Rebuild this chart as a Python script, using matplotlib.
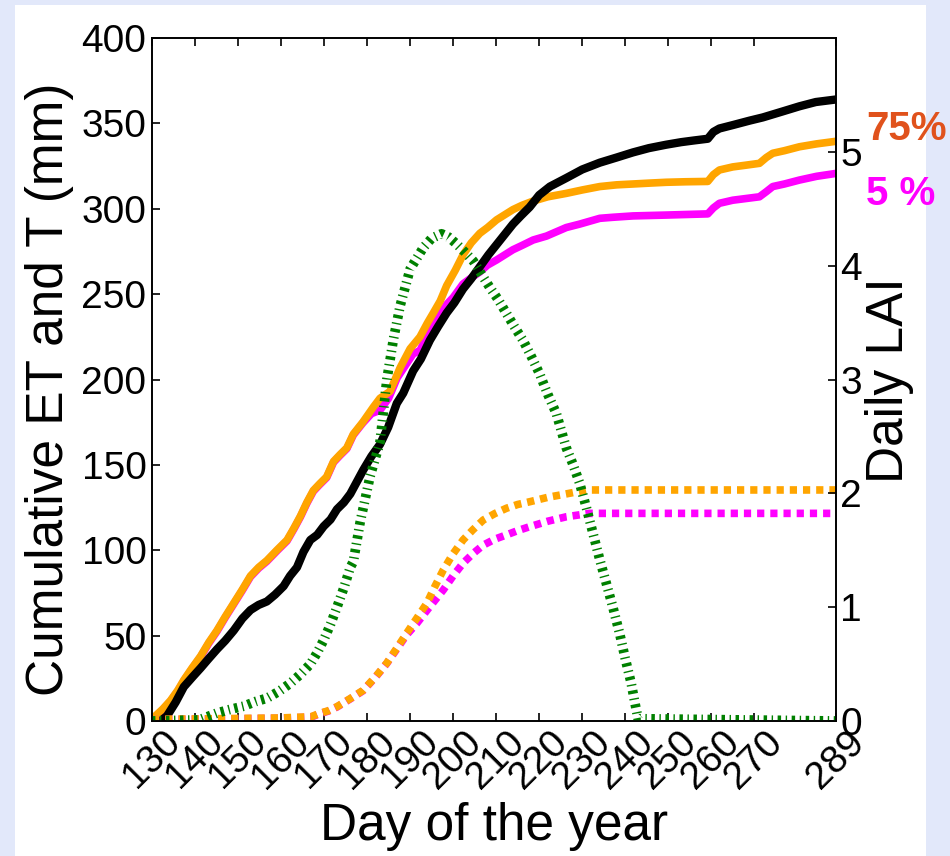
import matplotlib
matplotlib.use("Agg")
import matplotlib.pyplot as plt
from matplotlib.patches import Rectangle

plt.rcParams['font.family'] = ['Liberation Sans', 'DejaVu Sans']
plt.rcParams['lines.scale_dashes'] = False

# ---- cumulative evapotranspiration (mm), reference crop ----
et_ref_day = [130, 132, 133.5, 135.5, 137.4, 139.5, 141.3, 143, 145.1, 147, 149, 151, 152.9,
              154.8, 156.7, 158.6, 160.6, 162.1, 163.7, 165.2, 166.8, 168.4, 169.9, 171.5, 173,
              174.6, 176.1, 177.6, 179.1, 181, 183, 184.9, 186.9, 188.4, 190.7, 192.5, 194.6,
              196.5, 198.5, 200.3, 202.3, 204.2, 206.2, 208.2, 210.1, 212, 213.9, 215.8, 217.8,
              220, 222.5, 226.3, 230, 234.1, 238, 241.8, 245.5, 249.5, 253, 256, 259.2, 260.5,
              261.9, 265, 268.9, 272, 276.6, 280.5, 284.3, 289]
et_ref = [0, 0, 3, 11, 20, 26, 31, 36, 42, 47, 53, 60, 65,
          68, 70, 74, 79, 85, 90, 99, 106, 109, 114, 118, 124,
          128, 133, 140, 147, 155, 162, 172, 186, 192, 205, 212, 223,
          231, 239, 245, 253, 259, 266, 273, 279, 285, 291, 296, 301,
          308, 313, 318, 323, 327, 330, 333, 335.5, 337.5, 339, 340, 341, 345,
          347, 349, 351.6, 353.5, 357, 360, 362.5, 364]

# ---- cumulative ET, 75% treatment ----
et75_day = [130, 130.8, 132.5, 134.3, 136, 137.4, 139.3, 141.3, 143.2, 145.1, 147, 149, 151,
            152.9, 154.8, 156.7, 159, 161.4, 163, 164.5, 166, 167.5, 169, 170.6, 172.2, 173.7,
            175.3, 176.8, 179, 181.5, 183, 185.3, 187.7, 190, 192.3, 194, 195.4, 197, 198.5,
            200.5, 202.3, 204.2, 206.2, 208, 210.1, 212, 213.9, 216, 218.6, 222, 226.3, 230,
            234.1, 238, 241.8, 245.5, 249.5, 254, 259.2, 260.5, 261.9, 265, 268, 271.2, 272.8,
            274.3, 277, 280.5, 284.5, 289]
et75 = [1.5, 3, 7, 12, 18, 24, 31, 38, 46, 53, 61, 69, 77,
        85, 90, 94, 100, 106, 113, 120, 128, 135, 139, 143, 152, 156,
        160, 168, 175, 184, 189, 193, 207, 218, 225, 233, 239, 246, 255,
        264, 273, 280, 285.6, 289, 293.5, 296.5, 299.5, 302, 304.5, 307, 309, 311,
        313, 314, 314.5, 315, 315.5, 315.8, 316, 320, 322.7, 324.5, 325.5, 326.6, 330,
        332.5, 334, 336.3, 338, 339.5]

# ---- cumulative ET, 5% treatment ----
et5_day = [130, 130.8, 132.5, 134.3, 136, 137.4, 139.3, 141.3, 143.2, 145.1, 147, 149, 151,
           152.9, 154.8, 156.7, 159, 161.4, 163, 164.5, 166, 167.5, 169, 170.6, 172.2, 173.7,
           175.3, 176.8, 179, 181, 183, 185, 187, 190.7, 192.3, 194.6, 196.5, 198.5, 200,
           202.3, 204.2, 206.2, 208, 210.1, 212, 213.9, 216, 218.6, 221.7, 226.3, 229.4,
           234.1, 237.1, 241.8, 249.5, 259.2, 260.5, 261.9, 265, 271.2, 272.8, 274.3, 277,
           280.5, 284.5, 289]
et5 = [1, 2.5, 6.5, 11.5, 17.5, 23.5, 30.5, 37.5, 45.5, 52.5, 60.5, 68.5, 76.5,
       84.5, 89.5, 93.5, 99.5, 105.5, 112.5, 119.5, 127.5, 134.5, 138.5, 142.5, 151.5, 155.5,
       159.5, 167.5, 174.5, 180, 182, 189, 201, 215, 217, 229, 236, 244, 248,
       256, 259.5, 263, 267, 270, 273, 276, 278.5, 281.7, 284, 289, 291,
       294.4, 295, 295.8, 296.3, 297, 300.5, 303.2, 305, 307, 310, 313, 314.5,
       316.8, 319, 320.7]

# ---- cumulative transpiration (mm) ----
t75_day = [130, 140, 150, 160, 167, 169, 171, 173, 176, 179.1, 182, 184.6, 187, 189.2, 191.5,
           193.9, 195.8, 197.7, 200, 202.3, 204.6, 207, 209.7, 212.4, 215, 217.8, 222, 226.3,
           231, 289]
t75 = [1, 1.2, 1.5, 1.8, 2.5, 4.5, 6, 8.4, 13, 18, 26, 34, 43, 51.4, 60,
       69, 79, 88.4, 98, 106, 112, 117.7, 121.5, 124.6, 126.8, 128.4, 131, 133,
       135.3, 135.3]

t5_day = [130, 140, 150, 160, 167, 169, 171, 173, 176, 179.1, 182, 184.6, 187, 189.2, 191.5,
          194.6, 197.7, 200, 202.3, 204.6, 207, 209.7, 212.4, 215, 217.8, 222, 226.3,
          231.7, 289]
t5 = [0.8, 1, 1.3, 1.6, 2.3, 4.3, 5.8, 8.2, 12.8, 17.8, 25.8, 33.8, 42.5, 50.5, 57,
      67, 76.7, 85, 92.4, 98, 103, 106.5, 109, 111.5, 113.8, 117, 119.6,
      121.6, 121.6]

# ---- daily leaf area index ----
lai_day = [130, 141, 145.1, 148, 151.3, 154, 156.7, 159.5, 162.1, 164.5, 166.8, 168.4, 169.9,
           171.5, 173, 174.6, 176.1, 176.8, 178.4, 180.7, 183, 184.6, 186.1, 187.7, 190,
           193.1, 195, 197.3, 199, 200.8, 202.7, 204.7, 206.5, 208.5, 210.5, 212.4, 214.3,
           216.3, 218.2, 220.1, 222, 224, 226.3, 227.9, 229.4, 231, 232.5, 234, 235.6,
           237.2, 238.7, 240, 241.4, 242.3, 243, 289]
lai = [0, 0.01, 0.07, 0.1, 0.13, 0.17, 0.2, 0.26, 0.33, 0.41, 0.5, 0.6, 0.71,
       0.85, 1.0, 1.17, 1.35, 1.4, 1.75, 2.15, 2.45, 3.0, 3.35, 3.65, 3.97,
       4.16, 4.24, 4.28, 4.25, 4.19, 4.12, 4.04, 3.93, 3.81, 3.7, 3.58, 3.46,
       3.34, 3.2, 3.05, 2.87, 2.7, 2.4, 2.25, 2.09, 1.87, 1.65, 1.43, 1.21,
       0.99, 0.77, 0.55, 0.33, 0.15, 0.02, 0]

x_ticks = [130, 140, 150, 160, 170, 180, 190, 200, 210, 220, 230, 240, 250, 260, 270, 289]
et_ticks = [0, 50, 100, 150, 200, 250, 300, 350, 400]
lai_ticks = [0, 1, 2, 3, 4, 5]

ORANGE = '#ffa500'
MAGENTA = '#ff00ff'
GREEN = '#008000'

fig = plt.figure(figsize=(9.5, 8.56), dpi=100)
fig.patch.set_facecolor('#e2e8fa')
fig.add_artist(Rectangle((15 / 950, 0), (926 - 15) / 950, (856 - 5) / 856,
                         transform=fig.transFigure, facecolor='white',
                         edgecolor='none', zorder=0))

ax = fig.add_axes([152 / 950, 1 - 721 / 856, (836 - 152) / 950, (721 - 38) / 856])
ax.set_facecolor('white')

ax.plot(et5_day, et5, color=MAGENTA, lw=5.5, solid_capstyle='butt')
ax.plot(et75_day, et75, color=ORANGE, lw=5.5, solid_capstyle='butt')
ax.plot(et_ref_day, et_ref, color='black', lw=6, solid_capstyle='butt')
ax.plot(t5_day, t5, color=MAGENTA, lw=5.5, dashes=[5.2, 4.3])
ax.plot(t75_day, t75, color=ORANGE, lw=5.5, dashes=[5.2, 4.3])

ax.set_xlim(130, 289)
ax.set_ylim(0, 400)
ax.set_xticks(x_ticks)
ax.set_xticklabels([str(v) for v in x_ticks], rotation=45, ha='center', va='top')
ax.set_yticks(et_ticks)
ax.tick_params(axis='both', direction='in', length=6, width=1.2, labelsize=28,
               top=True, right=False, pad=4)
ax.tick_params(axis='x', pad=2)
for s in ax.spines.values():
    s.set_linewidth(1.2)

ax2 = ax.twinx()
ax2.plot(lai_day, lai, color=GREEN, lw=7, dashes=[2.5, 3.3, 1.0, 3.3])
ax2.set_ylim(0, 6)
ax2.set_yticks(lai_ticks)
ax2.tick_params(axis='y', direction='in', length=6, width=1.2, labelsize=28, pad=3)
for s in ax2.spines.values():
    s.set_linewidth(1.2)

fig.text(494 / 950, 1 - 840 / 856, 'Day of the year', fontsize=37,
         ha='center', va='baseline')
fig.text(63 / 950, 1 - 389 / 856, 'Cumulative ET and T (mm)', fontsize=37,
         rotation=90, rotation_mode='anchor', ha='center', va='baseline')
fig.text(903 / 950, 1 - 380 / 856, 'Daily LAI', fontsize=37,
         rotation=90, rotation_mode='anchor', ha='center', va='baseline')

fig.text(866 / 950, 1 - 140 / 856, '75%', fontsize=29, fontweight='bold',
         color='#e0521c', ha='left', va='baseline')
fig.text(866 / 950, 1 - 205 / 856, '5 %', fontsize=29, fontweight='bold',
         color=MAGENTA, ha='left', va='baseline')

fig.savefig('out.png', dpi=100, facecolor=fig.get_facecolor())
